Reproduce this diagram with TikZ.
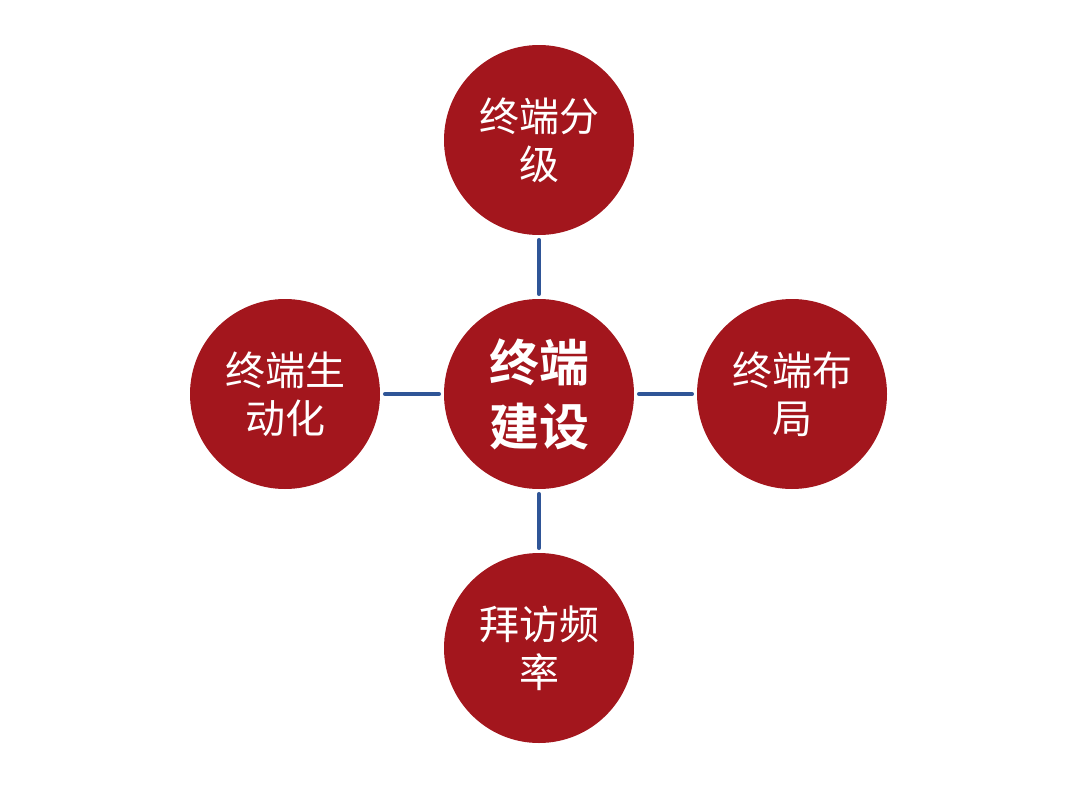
\documentclass[tikz,border=0pt]{standalone}
\usepackage{fontspec}
\newfontfamily\cjk{Noto Sans CJK SC}
\newfontfamily\cjkb{Noto Sans CJK SC Bold}
\definecolor{cred}{HTML}{A3161D}
\definecolor{cblue}{HTML}{2F5597}
\begin{document}
\begin{tikzpicture}[x=1pt,y=-1pt,
  ball/.style={circle,fill=cred,minimum size=190pt,inner sep=0pt,text=white,align=center,
    font=\cjk\fontsize{40}{48}\selectfont},
  hub/.style={ball,font=\cjkb\fontsize{50}{64}\selectfont},
  link/.style={draw=cblue,line width=4.5pt,line cap=round,shorten <=5pt,shorten >=5pt}]
\useasboundingbox (0,0) rectangle (1080,790);
\node[hub]  (c) at (539,394) {终端\\建设};
\node[ball] (t) at (539,140) {终端分\\级};
\node[ball] (l) at (285,394) {终端生\\动化};
\node[ball] (r) at (792,394) {终端布\\局};
\node[ball] (b) at (539,648) {拜访频\\率};
\draw[link] (t) -- (c);
\draw[link] (l) -- (c);
\draw[link] (c) -- (r);
\draw[link] (c) -- (b);
\end{tikzpicture}
\end{document}
